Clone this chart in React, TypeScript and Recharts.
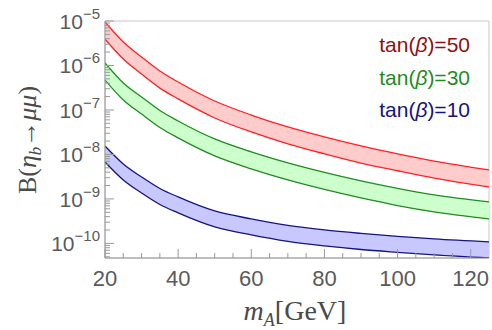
import React from 'react';
import { ComposedChart, Area, XAxis, YAxis, ReferenceArea } from 'recharts';

// m_A in GeV
const mass = [20, 25, 30, 35, 40, 50, 60, 70, 80, 90, 100, 110, 125];

// tan(beta) = 50 band
const tan50Upper = [9.5e-6, 3.37e-6, 1.55e-6, 7.5e-7, 4.25e-7, 1.59e-7, 7.7e-8, 4.15e-8, 2.47e-8, 1.55e-8, 1.03e-8, 7.1e-9, 4.5e-9];
const tan50Lower = [3.9e-6, 1.4e-6, 6.4e-7, 3.1e-7, 1.77e-7, 6.6e-8, 3.2e-8, 1.73e-8, 1.03e-8, 6.4e-9, 4.3e-9, 2.95e-9, 1.87e-9];

// tan(beta) = 30 band
const tan30Upper = [1.14e-6, 4.05e-7, 1.96e-7, 9.75e-8, 5.66e-8, 2.23e-8, 1.14e-8, 6.44e-9, 3.94e-9, 2.54e-9, 1.72e-9, 1.23e-9, 8.57e-10];
const tan30Lower = [4.7e-7, 1.68e-7, 8.1e-8, 4.05e-8, 2.35e-8, 9.25e-9, 4.73e-9, 2.67e-9, 1.63e-9, 1.05e-9, 7.1e-10, 5.1e-10, 3.55e-10];

// tan(beta) = 10 band
const tan10Upper = [1.55e-8, 6.12e-9, 3.12e-9, 1.72e-9, 1.11e-9, 5.37e-10, 3.56e-10, 2.54e-10, 2.01e-10, 1.68e-10, 1.44e-10, 1.26e-10, 1.08e-10];
const tan10Lower = [6.77e-9, 2.67e-9, 1.36e-9, 7.5e-10, 4.85e-10, 2.35e-10, 1.55e-10, 1.11e-10, 8.8e-11, 7.3e-11, 6.3e-11, 5.5e-11, 4.7e-11];

const xTicks = [20, 25, 30, 35, 40, 45, 50, 55, 60, 65, 70, 75, 80, 85, 90, 95, 100, 105, 110, 115, 120];
const xMajor = [20, 40, 60, 80, 100, 120];
const yDecades = [1e-11, 1e-10, 1e-9, 1e-8, 1e-7, 1e-6, 1e-5];
const yMinorSteps = [1, 2, 3, 4, 5, 6, 7, 8, 9];
const yMin = 4.7e-11;
const yMax = 1e-5;

const yTicks = yDecades
  .flatMap((d) => yMinorSteps.map((k) => k * d))
  .filter((v) => v >= yMin && v <= yMax * 1.0001);

const data = mass.map((m, i) => ({
  m,
  tan50: [tan50Lower[i], tan50Upper[i]],
  tan30: [tan30Lower[i], tan30Upper[i]],
  tan10: [tan10Lower[i], tan10Upper[i]],
}));

const tickColor = '#999';
const labelColor = '#5a5a5a';
const sans = '"Liberation Sans", Arial, sans-serif';
const serif = '"Liberation Serif", "Times New Roman", serif';

const YTick = (props: any) => {
  const { x, y, payload } = props;
  const v = payload.value;
  const exp = Math.round(Math.log10(v));
  const major = Math.abs(v - Math.pow(10, exp)) < v * 1e-3;
  return (
    <g>
      <line x1={x} x2={x + (major ? 9 : 5)} y1={y} y2={y} stroke={tickColor} strokeWidth={1} />
      {major && (
        <text x={x - 5} y={y + 8} textAnchor="end" fill={labelColor} fontFamily={sans} fontSize={21}>
          10
          <tspan dy={-10} fontSize={15}>
            {'\u2212' + -exp}
          </tspan>
        </text>
      )}
    </g>
  );
};

const XTick = (props: any) => {
  const { x, y, payload } = props;
  const major = xMajor.includes(payload.value);
  return (
    <g>
      <line x1={x} x2={x} y1={y} y2={y - (major ? 9 : 5)} stroke={tickColor} strokeWidth={1} />
      {major && (
        <text x={x} y={y + 28} textAnchor="middle" fill={labelColor} fontFamily={sans} fontSize={22}>
          {payload.value}
        </text>
      )}
    </g>
  );
};

export default function App() {
  return (
    <div style={{ position: 'absolute', left: 0, top: 0, width: 492, height: 330, background: '#fff' }}>
      <ComposedChart width={492} height={330} data={data} margin={{ top: 21, right: 3, left: 0, bottom: 0 }}>
        <XAxis
          dataKey="m"
          type="number"
          domain={[20, 125]}
          ticks={xTicks}
          interval={0}
          allowDataOverflow
          height={72}
          tickSize={0}
          tickMargin={0}
          tickLine={false}
          axisLine={{ stroke: tickColor }}
          tick={<XTick />}
        />
        <YAxis
          scale="log"
          type="number"
          domain={[yMin, yMax]}
          ticks={yTicks}
          interval={0}
          allowDataOverflow
          width={105}
          tickSize={0}
          tickMargin={0}
          tickLine={false}
          axisLine={{ stroke: tickColor }}
          tick={<YTick />}
        />
        <ReferenceArea x1={20} x2={125} y1={yMin} y2={yMax} fill="none" stroke="#c8c8c8" strokeWidth={1} />
        <Area
          type="monotone"
          dataKey="tan50"
          stroke="#ff2020"
          strokeWidth={1.3}
          fill="#ffcccc"
          fillOpacity={1}
          isAnimationActive={false}
        />
        <Area
          type="monotone"
          dataKey="tan30"
          stroke="#1f8c1f"
          strokeWidth={1.3}
          fill="#ccffcc"
          fillOpacity={1}
          isAnimationActive={false}
        />
        <Area
          type="monotone"
          dataKey="tan10"
          stroke="#14147e"
          strokeWidth={1.3}
          fill="#c8c8ff"
          fillOpacity={1}
          isAnimationActive={false}
        />
        <text x={470} y={52} textAnchor="end" fill="#8f1010" fontFamily={sans} fontSize={21}>
          tan(<tspan fontStyle="italic">β</tspan>)=50
        </text>
        <text x={470} y={85} textAnchor="end" fill="#1f8c1f" fontFamily={sans} fontSize={21}>
          tan(<tspan fontStyle="italic">β</tspan>)=30
        </text>
        <text x={470} y={117} textAnchor="end" fill="#14147e" fontFamily={sans} fontSize={21}>
          tan(<tspan fontStyle="italic">β</tspan>)=10
        </text>
        <text x={295} y={320} textAnchor="middle" fill="#4a4a4a" fontFamily={serif} fontSize={28}>
          <tspan fontStyle="italic">m</tspan>
          <tspan fontStyle="italic" fontSize={18} dy={6}>A</tspan>
          <tspan dy={-6}>[GeV]</tspan>
        </text>
        <text
          x={36}
          y={140}
          textAnchor="middle"
          fill="#4a4a4a"
          fontFamily={serif}
          fontSize={26}
          transform="rotate(-90 36 140)"
        >
          B(<tspan fontStyle="italic">η</tspan>
          <tspan fontStyle="italic" fontSize={17} dy={5}>b</tspan>
          <tspan dy={-5}>→</tspan>
          <tspan fontStyle="italic">μμ</tspan>)
        </text>
      </ComposedChart>
    </div>
  );
}
